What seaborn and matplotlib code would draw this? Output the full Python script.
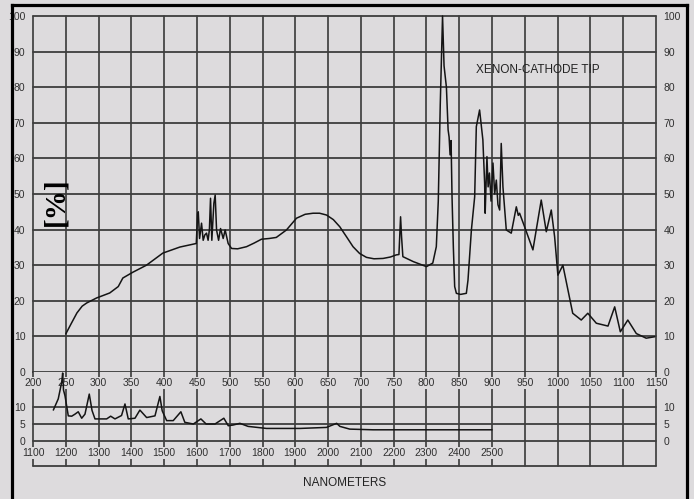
import matplotlib
matplotlib.use("Agg")
import matplotlib.pyplot as plt
import pandas as pd
import seaborn as sns
from matplotlib.lines import Line2D

# Xenon cathode tip spectrum, 250-1150 nm (percent)
vis_nm = [250, 258, 267, 275, 282, 297, 317, 330, 337, 352, 373, 398, 424, 449,
          451, 452, 454, 457, 459.5, 462, 464.6, 467, 469, 470.7, 472.7, 475.8,
          477.8, 479.9, 483, 486, 490, 493, 497.6, 502.8, 512, 525.6, 537, 548.4,
          560, 571, 586.5, 601.8, 615, 627, 637, 647.5, 658, 667.8, 678, 688, 698,
          708.5, 720, 733.8, 745, 754, 758, 760.5, 762, 764, 780, 800, 809.6, 815,
          818, 821, 824.5, 826.8, 830.4, 833, 834.5, 836, 837.5, 839, 841, 843,
          845.6, 852, 860.8, 863.3, 868.5, 873.5, 876, 881, 886, 888.7, 889.5,
          892.2, 894, 896, 898.5, 901.4, 904, 906.5, 909, 911.6, 914, 916.6, 921.7,
          929.3, 937, 940, 942, 949.6, 962.3, 975, 982.7, 990.3, 995.4, 1000.4,
          1008, 1023, 1036, 1046, 1059, 1076.8, 1087, 1095.6, 1107, 1120, 1135, 1148]
vis_pct = [10.7, 13.5, 16.6, 18.5, 19.4, 20.8, 22.2, 24.0, 26.4, 28.0, 30.0, 33.4,
           35.1, 36.1, 44.5, 45.0, 37.5, 41.8, 37.0, 38.5, 39.0, 37.0, 40.0, 48.8,
           37.0, 47.4, 49.7, 39.9, 37.0, 40.3, 37.5, 39.9, 36.1, 34.7, 34.6, 35.2,
           36.2, 37.3, 37.5, 37.8, 39.9, 43.2, 44.3, 44.6, 44.6, 44.1, 42.8, 40.8,
           38.0, 35.2, 33.3, 32.2, 31.8, 31.9, 32.3, 32.9, 33.0, 43.6, 38.0, 32.4,
           31.0, 29.6, 30.6, 35.2, 48.0, 75.0, 100.0, 86.0, 80.0, 68.0, 66.0, 61.0,
           65.0, 49.0, 35.0, 24.0, 22.1, 21.8, 22.1, 25.8, 39.9, 49.2, 68.9, 73.6,
           65.2, 53.0, 44.6, 60.5, 52.0, 55.9, 48.0, 58.7, 50.0, 53.9, 47.0, 45.5,
           64.2, 52.0, 39.9, 39.0, 46.4, 44.0, 44.6, 40.8, 34.3, 48.3, 39.4, 45.5,
           38.0, 27.2, 30.0, 16.5, 14.6, 16.5, 13.7, 12.9, 18.3, 11.3, 14.6, 10.8,
           9.5, 9.9]

# Infrared part, 1160-2500 nm (percent)
ir_nm = [1162, 1177, 1187.5, 1190.5, 1193, 1197.6, 1207.6, 1218, 1228, 1238, 1248.5,
         1258.5, 1271.6, 1280, 1289, 1324.6, 1336.9, 1350, 1370, 1380.5, 1390.5,
         1411, 1426, 1446.6, 1472, 1487, 1494, 1507.6, 1527.7, 1551, 1563, 1589,
         1612, 1628, 1655, 1682, 1695.5, 1710, 1731, 1756, 1812, 1914, 1995, 2026,
         2036, 2066, 2137, 2500]
ir_pct = [9.1, 12.4, 17.3, 20.0, 15.0, 13.3, 7.4, 7.3, 7.9, 8.6, 6.7, 7.9, 13.8, 9.0,
          6.5, 6.5, 7.3, 6.5, 7.5, 10.9, 6.5, 6.7, 9.1, 6.9, 7.4, 13.1, 8.9, 6.0, 6.0,
          8.6, 5.5, 5.0, 6.5, 5.0, 5.0, 6.7, 4.5, 4.7, 5.2, 4.3, 3.7, 3.7, 4.0, 5.2,
          4.3, 3.5, 3.3, 3.3]

vis_ticks = list(range(200, 1151, 50))
ir_ticks = list(range(1100, 2501, 100))
pct_ticks = list(range(0, 101, 10))
ir_pct_ticks = [0, 5, 10]

BG = "#dddbdd"
GRID_V = "#2b2b2b"
GRID_H = "#3d3d3d"
INK = "#141414"
LABEL = "#303030"
FONT = "Liberation Sans"

sns.set_style("white", {"axes.facecolor": BG, "figure.facecolor": BG})
plt.rcParams["font.family"] = [FONT, "DejaVu Sans"]

W, H = 694, 499
fig = plt.figure(figsize=(W / 100, H / 100), dpi=100)
fig.patch.set_facecolor(BG)


def box(left, top, right, bottom):
    return [left / W, 1 - bottom / H, (right - left) / W, (bottom - top) / H]


ax = fig.add_axes(box(33, 16, 656, 372))
axb = fig.add_axes(box(33, 372, 656, 466))

for a in (ax, axb):
    a.set_facecolor(BG)
    for s in a.spines.values():
        s.set_visible(False)
    a.set_xticks([])
    a.tick_params(axis="y", left=False, right=False, labelleft=True,
                  labelright=True, pad=2, labelsize=7.5, labelcolor=LABEL)

# ---- upper panel: 200-1150 nm, 0-100 %
ax.set_xlim(200, 1150)
ax.set_ylim(0, 100)
ax.set_yticks(pct_ticks)
for v in vis_ticks:
    ax.axvline(v, color=GRID_V, lw=1.1, zorder=1, clip_on=False)
for h in pct_ticks:
    ax.axhline(h, color=GRID_H, lw=1.3, zorder=1, clip_on=False)

vis_df = pd.DataFrame({"nm": vis_nm, "pct": vis_pct})
sns.lineplot(data=vis_df, x="nm", y="pct", ax=ax, color=INK, lw=1.1,
             estimator=None, sort=False, zorder=5, clip_on=False)
ax.set_xlabel("")
ax.set_ylabel("")

# ---- lower panel: 1100-2500 nm on a compressed scale
y_top, y_bot = 20.3, -7.35
axb.set_xlim(1100, 3000)
axb.set_ylim(y_bot, y_top)
axb.set_yticks(ir_pct_ticks)
for v in range(1100, 3001, 100):
    axb.axvline(v, color=GRID_V, lw=1.1, zorder=1, clip_on=False)
for h in ir_pct_ticks + [y_bot]:
    axb.axhline(h, color=GRID_H, lw=1.3, zorder=1, clip_on=False)

ir_df = pd.DataFrame({"nm": ir_nm, "pct": ir_pct})
sns.lineplot(data=ir_df, x="nm", y="pct", ax=axb, color=INK, lw=1.1,
             estimator=None, sort=False, zorder=5, clip_on=False)
axb.set_xlabel("")
axb.set_ylabel("")

label_box = dict(facecolor=BG, edgecolor="none", pad=0.6)
# wavelength labels of the upper panel, placed between the two panels
for v in vis_ticks:
    axb.text(1100 + (v - 200) * 2, 17.0, str(v), ha="center", va="center",
             fontsize=7.5, color=LABEL, bbox=label_box, zorder=3)
# wavelength labels of the lower panel
for v in ir_ticks:
    axb.text(v, -3.6, str(v), ha="center", va="center",
             fontsize=7.5, color=LABEL, bbox=label_box, zorder=3)

# ---- annotations
fig.text(538 / W, 1 - 70 / H, "XENON-CATHODE TIP", ha="center", va="center",
         fontsize=8.5, color="#222222")
fig.text(344.5 / W, 1 - 483 / H, "NANOMETERS", ha="center", va="center",
         fontsize=8.5, color="#222222")
fig.text(56 / W, 1 - 202 / H, "[%]", rotation=90, ha="center", va="center",
         fontsize=21, fontweight="bold", family="Liberation Serif", color="black")

# outer black frame
frame = dict(transform=fig.transFigure, color="black", lw=2.3,
             solid_capstyle="projecting")
fig.add_artist(Line2D([12 / W, 12 / W], [0, 1 - 4.5 / H], **frame))
fig.add_artist(Line2D([687 / W, 687 / W], [0, 1 - 4.5 / H], **frame))
fig.add_artist(Line2D([12 / W, 687 / W], [1 - 4.5 / H, 1 - 4.5 / H], **frame))

fig.savefig("out.png", dpi=100, facecolor=BG)
